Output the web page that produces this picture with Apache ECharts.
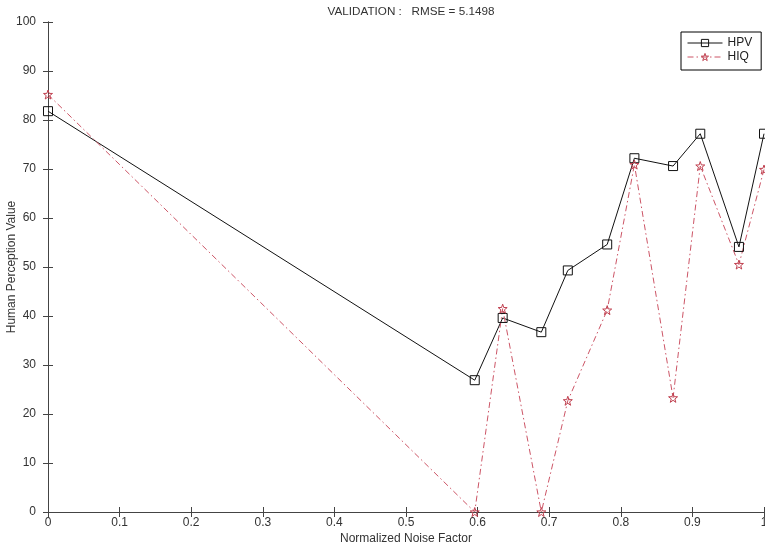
<!DOCTYPE html>
<html>
<head>
<meta charset="utf-8">
<script src="https://cdn.jsdelivr.net/npm/echarts@6/dist/echarts.min.js"></script>
<style>
html,body{margin:0;padding:0;background:#fff;}
#chart{width:765px;height:547px;}
</style>
</head>
<body>
<div id="chart"></div>
<script>
var titleText = 'VALIDATION :   RMSE = 5.1498';
var noiseFactor = [0, 0.596, 0.635, 0.689, 0.726, 0.781, 0.819, 0.873, 0.911, 0.965, 1.0];
var hpv = [81.8, 26.9, 39.6, 36.7, 49.3, 54.6, 72.2, 70.6, 77.2, 54.1, 77.2];
var hiq = [85.2, 0, 41.5, 0, 22.7, 41.2, 70.9, 23.3, 70.6, 50.5, 69.9];
var xTicks = [0, 0.1, 0.2, 0.3, 0.4, 0.5, 0.6, 0.7, 0.8, 0.9, 1];
var yTicks = [0, 10, 20, 30, 40, 50, 60, 70, 80, 90, 100];

function pairs(xs, ys) { return xs.map(function (x, i) { return [x, ys[i]]; }); }

var font = 'Liberation Sans, Arial, sans-serif';
var axisColor = '#444';
var starPath = 'path://M0,-10 L2.35,-3.24 L9.51,-3.09 L3.8,1.24 L5.88,8.09 L0,4 L-5.88,8.09 L-3.8,1.24 L-9.51,-3.09 L-2.35,-3.24 Z';

var chart = echarts.init(document.getElementById('chart'), null, {renderer: 'canvas'});
var baseX = {
  type: 'value', min: xTicks[0], max: xTicks[xTicks.length - 1], interval: 0.1,
  axisLine: {show: true, lineStyle: {color: axisColor, width: 1}},
  axisTick: {show: true, inside: true, length: 5, lineStyle: {color: axisColor}},
  splitLine: {show: false}
};
var baseY = {
  type: 'value', min: yTicks[0], max: yTicks[yTicks.length - 1], interval: 10,
  axisLine: {show: true, lineStyle: {color: axisColor, width: 1}},
  axisTick: {show: true, inside: true, length: 5, lineStyle: {color: axisColor}},
  splitLine: {show: false}
};
chart.setOption({
  animation: false,
  backgroundColor: '#fff',
  title: {
    text: titleText, left: 406, top: 1, textAlign: 'center',
    textStyle: {fontFamily: font, fontSize: 11.7, fontWeight: 'normal', color: '#333'}
  },
  legend: {
    orient: 'vertical', left: 681, top: 32,
    padding: [5, 9, 7, 6], itemWidth: 35, itemHeight: 9, itemGap: 2,
    borderColor: '#000', borderWidth: 1, borderRadius: 0, backgroundColor: '#fff',
    textStyle: {fontFamily: font, fontSize: 12, color: '#222'},
    data: [
      {name: 'HPV', itemStyle: {color: 'rgba(255,255,255,0)', borderColor: '#111', borderWidth: 1}, lineStyle: {width: 1, color: '#111'}},
      {name: 'HIQ', itemStyle: {color: 'rgba(255,255,255,0)', borderColor: '#c0404f', borderWidth: 1}, lineStyle: {width: 1, color: '#cc5566', type: [6, 3, 1.5, 3]}}
    ]
  },
  grid: {left: 48, right: 1, top: 22, bottom: 35, containLabel: false, outerBoundsMode: 'none'},
  xAxis: [
    Object.assign({}, baseX, {
      position: 'bottom',
      name: 'Normalized Noise Factor', nameLocation: 'middle', nameGap: 21, nameMoveOverlap: false,
      nameTextStyle: {fontFamily: font, fontSize: 12, color: '#333'},
      axisLabel: {show: true, margin: 5, fontFamily: font, fontSize: 12, color: '#333'}
    }),
    Object.assign({}, baseX, {position: 'top', axisLabel: {show: false}})
  ],
  yAxis: [
    Object.assign({}, baseY, {
      position: 'left',
      name: 'Human Perception Value', nameLocation: 'middle', nameGap: 30, nameMoveOverlap: false,
      nameTextStyle: {fontFamily: font, fontSize: 12, color: '#333'},
      axisLabel: {show: true, margin: 12, fontFamily: font, fontSize: 12, color: '#333'}
    }),
    Object.assign({}, baseY, {position: 'right', axisLabel: {show: false}})
  ],
  series: [
    {
      name: 'HPV', type: 'line', data: pairs(noiseFactor, hpv),
      xAxisIndex: 0, yAxisIndex: 0,
      symbol: 'rect', symbolSize: 9, showAllSymbol: true,
      lineStyle: {color: '#111', width: 1},
      itemStyle: {color: 'rgba(255,255,255,0)', borderColor: '#111', borderWidth: 1},
      emphasis: {disabled: true}
    },
    {
      name: 'HIQ', type: 'line', data: pairs(noiseFactor, hiq),
      xAxisIndex: 0, yAxisIndex: 0,
      symbol: starPath, symbolSize: 9, showAllSymbol: true,
      lineStyle: {color: '#cc5566', width: 1, type: [6, 3, 1.5, 3]},
      itemStyle: {color: 'rgba(255,255,255,0)', borderColor: '#c0404f', borderWidth: 1},
      emphasis: {disabled: true}
    }
  ]
});
</script>
</body>
</html>
